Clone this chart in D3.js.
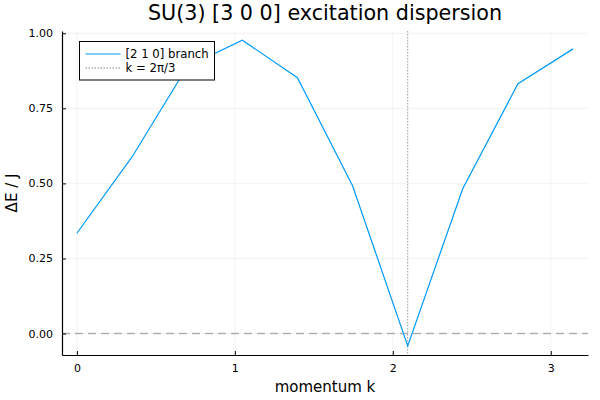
<!DOCTYPE html>
<html>
<head>
<meta charset="utf-8">
<script src="https://cdn.jsdelivr.net/npm/d3@7"></script>
<style>
  body { margin: 0; background: #fff; }
  text { font-family: "DejaVu Sans", sans-serif; }
</style>
</head>
<body>
<div id="chart"></div>
<script>
// momentum points k = n*pi/9 and the excitation energies
var kIndex = [0, 1, 2, 3, 4, 5, 6, 7, 8, 9];
var energy = [0.334, 0.588, 0.889, 0.977, 0.852, 0.492, -0.041, 0.483, 0.832, 0.948];
var xTicks = [0, 1, 2, 3];
var yTicks = [0, 0.25, 0.5, 0.75, 1.0];
var kMark = 2 * Math.PI / 3;

var data = kIndex.map(function(n, i) { return {k: n * Math.PI / 9, e: energy[i]}; });

// set the dimensions and margins of the graph
var margin = {top: 31, right: 12, bottom: 45, left: 62},
    width = 600 - margin.left - margin.right,
    height = 400 - margin.top - margin.bottom;

// Plots-style 3% padding around the data
var xExt = d3.extent(data, function(d) { return d.k; });
var yExt = d3.extent(data, function(d) { return d.e; });
var xPad = (xExt[1] - xExt[0]) * 0.03, yPad = (yExt[1] - yExt[0]) * 0.03;

var x = d3.scaleLinear().domain([xExt[0] - xPad, xExt[1] + xPad]).range([0, width]);
var y = d3.scaleLinear().domain([yExt[0] - yPad, yExt[1] + yPad]).range([height, 0]);

var svg = d3.select("#chart").append("svg")
    .attr("width", 600)
    .attr("height", 400)
  .append("g")
    .attr("transform", "translate(" + margin.left + "," + margin.top + ")");

// grid lines
svg.append("g").selectAll("line").data(xTicks).enter().append("line")
    .attr("x1", function(d) { return x(d); }).attr("x2", function(d) { return x(d); })
    .attr("y1", 0).attr("y2", height)
    .style("stroke", "#000").style("stroke-opacity", 0.1).style("stroke-width", 0.5);
svg.append("g").selectAll("line").data(yTicks).enter().append("line")
    .attr("y1", function(d) { return y(d); }).attr("y2", function(d) { return y(d); })
    .attr("x1", 0).attr("x2", width)
    .style("stroke", "#000").style("stroke-opacity", 0.1).style("stroke-width", 0.5);

// zero line
svg.append("line")
    .attr("x1", 0).attr("x2", width)
    .attr("y1", y(0)).attr("y2", y(0))
    .style("stroke", "#808080").style("stroke-opacity", 0.6)
    .style("stroke-width", 1.6).style("stroke-dasharray", "8,5");

// k = 2pi/3 marker
svg.append("line")
    .attr("x1", x(kMark)).attr("x2", x(kMark))
    .attr("y1", 0).attr("y2", height)
    .style("stroke", "#808080").style("stroke-opacity", 0.8)
    .style("stroke-width", 1).style("stroke-dasharray", "1.5,1.5");

// dispersion line
var line = d3.line().x(function(d) { return x(d.k); }).y(function(d) { return y(d.e); });
svg.append("path")
    .datum(data)
    .attr("d", line)
    .style("fill", "none")
    .style("stroke", "#009AFA")
    .style("stroke-width", 1.2);

// Add x axis
var xAxis = svg.append("g")
    .attr("transform", "translate(0," + height + ")")
    .call(d3.axisBottom(x).tickValues(xTicks).tickSizeInner(-4).tickSizeOuter(0).tickPadding(9)
      .tickFormat(d3.format("d")));

// Add y axis
var yAxis = svg.append("g")
    .call(d3.axisLeft(y).tickValues(yTicks).tickSizeInner(-4).tickSizeOuter(0).tickPadding(9)
      .tickFormat(d3.format(".2f")));

[xAxis, yAxis].forEach(function(a) {
  a.select(".domain").style("stroke", "#000").style("stroke-width", 1.2);
  a.selectAll(".tick line").style("stroke", "#000").style("stroke-width", 1);
  a.selectAll(".tick text").style("font-family", "DejaVu Sans, sans-serif")
    .style("font-size", "11px").style("fill", "#000");
});

// title
svg.append("text")
    .attr("x", width / 2).attr("y", -11)
    .attr("text-anchor", "middle")
    .style("font-size", "20.7px")
    .text("SU(3) [3 0 0] excitation dispersion");

// Add x axis label
svg.append("text")
    .attr("x", width / 2).attr("y", height + 37)
    .attr("text-anchor", "middle")
    .style("font-size", "15px")
    .text("momentum k");

// Add y axis label
svg.append("text")
    .attr("transform", "rotate(-90)")
    .attr("x", -height / 2).attr("y", -margin.left + 17)
    .attr("text-anchor", "middle")
    .style("font-size", "15px")
    .text("ΔE / J");

// legend
var legend = svg.append("g").attr("transform", "translate(17.5,10.5)");
legend.append("rect")
    .attr("width", 135).attr("height", 38.5)
    .style("fill", "#fff").style("stroke", "#000").style("stroke-width", 1);
legend.append("line")
    .attr("x1", 6).attr("x2", 41).attr("y1", 12.5).attr("y2", 12.5)
    .style("stroke", "#009AFA").style("stroke-width", 1.2);
legend.append("line")
    .attr("x1", 6).attr("x2", 41).attr("y1", 26.5).attr("y2", 26.5)
    .style("stroke", "#808080").style("stroke-width", 1).style("stroke-dasharray", "1.5,1.5");
legend.append("text").attr("x", 46).attr("y", 16.5).style("font-size", "11.7px").text("[2 1 0] branch");
legend.append("text").attr("x", 46).attr("y", 30.5).style("font-size", "11.7px").text("k = 2π/3");
</script>
</body>
</html>
